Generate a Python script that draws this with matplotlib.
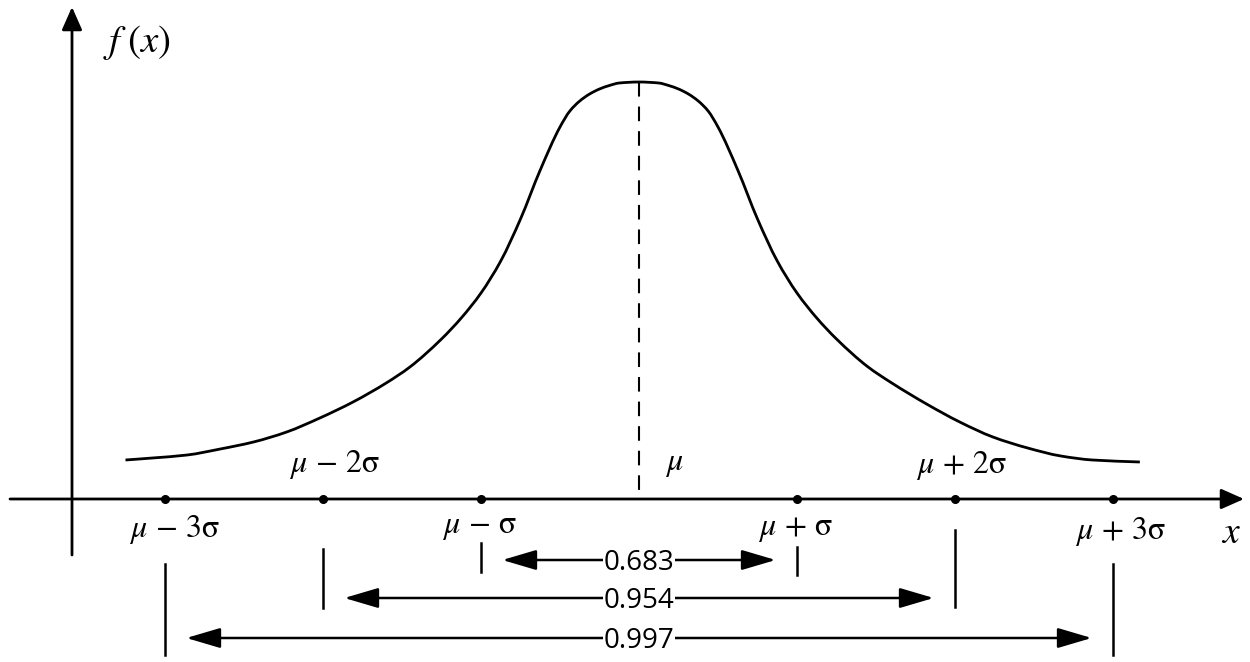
import matplotlib
matplotlib.use("Agg")
import matplotlib.pyplot as plt
import numpy as np
from matplotlib.path import Path
from matplotlib.patches import PathPatch

plt.rcParams['mathtext.fontset'] = 'stix'
plt.rcParams['font.family'] = ['Open Sans', 'DejaVu Sans']

# ---------------- data ----------------
# curve: x in multiples of sigma from mu, height in arbitrary units (axis = 0)
curve_sigma = [-3.25, -3.08, -2.86, -2.65, -2.44, -2.23, -2.02, -1.81, -1.6, -1.45,
               -1.25, -1.125, -1.0, -0.875, -0.75, -0.625, -0.5, -0.4375, -0.375,
               -0.3125, -0.25, -0.1875, -0.125, 0.0,
               0.125, 0.1875, 0.25, 0.3125, 0.375, 0.4375, 0.5, 0.625, 0.75, 0.875,
               1.0, 1.125, 1.25, 1.45, 1.6, 1.82, 2.03, 2.24, 2.46, 2.67, 2.87, 3.17]
curve_height = [39, 41, 44, 50, 57, 67, 81, 97, 116, 132,
                160, 181, 206, 238, 280, 329, 372, 388, 398,
                405, 410, 413.5, 416, 417,
                416, 413.5, 410, 405, 398, 388, 372, 329, 280, 238,
                206, 181, 160, 132, 116, 95, 77, 62, 51, 43, 39, 37]

point_sigma = [-3, -2, -1, 1, 2, 3]
point_labels = [r'$\mu\,-\,3\mathrm{\sigma}$', r'$\mu\,-\,2\mathrm{\sigma}$', r'$\mu\,-\,\mathrm{\sigma}$',
                r'$\mu\,+\,\mathrm{\sigma}$', r'$\mu\,+\,2\mathrm{\sigma}$', r'$\mu\,+\,3\mathrm{\sigma}$']
interval_k = [1, 2, 3]
interval_prob = ['0.683', '0.954', '0.997']

# ---------------- layout ----------------
W, H = 1250, 662
PX_PER_SIGMA = 158.0
MU_PX = 639.0
AXIS_PY = 499.0


def sx(px):
    return (px - MU_PX) / PX_PER_SIGMA


def sy(py):
    return AXIS_PY - py


def smooth_path(xs, ys):
    """Piecewise cubic (shape preserving) Bezier path through the given points."""
    x = np.asarray(xs, float)
    y = np.asarray(ys, float)
    h = np.diff(x)
    d = np.diff(y) / h
    m = np.zeros_like(x)
    m[0], m[-1] = d[0], d[-1]
    for k in range(1, len(x) - 1):
        if d[k - 1] * d[k] <= 0:
            m[k] = 0.0
        else:
            w1 = 2 * h[k] + h[k - 1]
            w2 = h[k] + 2 * h[k - 1]
            m[k] = (w1 + w2) / (w1 / d[k - 1] + w2 / d[k])
    verts = [(x[0], y[0])]
    codes = [Path.MOVETO]
    for k in range(len(x) - 1):
        verts += [(x[k] + h[k] / 3, y[k] + m[k] * h[k] / 3),
                  (x[k + 1] - h[k] / 3, y[k + 1] - m[k + 1] * h[k] / 3),
                  (x[k + 1], y[k + 1])]
        codes += [Path.CURVE4] * 3
    return Path(verts, codes)


fig = plt.figure(figsize=(W / 100, H / 100), dpi=100)
ax = fig.add_axes([0, 0, 1, 1])
ax.set_xlim(sx(0), sx(W))
ax.set_ylim(sy(H), sy(0))
ax.axis('off')

# axes with arrow heads
ax.annotate('', xy=(sx(1244), 0), xytext=(sx(10), 0),
            arrowprops=dict(arrowstyle='-|>,head_length=1.4,head_width=0.62',
                            lw=2, color='k', shrinkA=0, shrinkB=0, mutation_scale=10))
ax.annotate('', xy=(sx(72), sy(7)), xytext=(sx(72), sy(555)),
            arrowprops=dict(arrowstyle='-|>,head_length=1.4,head_width=0.62',
                            lw=2, color='k', shrinkA=0, shrinkB=0, mutation_scale=10))

# density curve
ax.add_patch(PathPatch(smooth_path(curve_sigma, curve_height), fill=False,
                       edgecolor='k', lw=2, capstyle='butt'))

# dashed mean line (from peak down to axis)
peak = max(curve_height)
ax.plot([0, 0], [peak, 0], color='k', lw=1.5, dashes=(7, 4.8))

# points on axis
ax.plot(point_sigma, [0] * len(point_sigma), 'o', color='k', ms=5.5)

# labels for points
label_dx = [0.06, 0.076, -0.006, -0.01, 0.044, 0.05]
label_base = [sy(537), sy(472), sy(533), sy(535), sy(473), sy(539)]
for s, lab, dx, yb in zip(point_sigma, point_labels, label_dx, label_base):
    ax.text(s + dx, yb, lab, ha='center', va='baseline', fontsize=23, color='k')

ax.text(sx(665), sy(470), r'$\mu$', ha='left', va='baseline', fontsize=23, color='k')
ax.text(sx(137), sy(43), r'$f\;(x)$', ha='center', va='center', fontsize=28, color='k')
ax.text(sx(1231), sy(543), r'$x$', ha='center', va='baseline', fontsize=27, color='k')

# interval bars
bar_top = {-3: 564, -2: 549, -1: 543, 1: 547, 2: 530, 3: 564}
bar_bot = {-3: 655, -2: 608, -1: 572, 1: 575, 2: 607, 3: 655}
for s in point_sigma:
    ax.plot([s, s], [sy(bar_top[s]), sy(bar_bot[s])], color='k', lw=1.8)

# probability arrows
arrow_py = [560, 598, 638]
gap = 0.135
for k, p, py in zip(interval_k, interval_prob, arrow_py):
    ax.annotate('', xy=(k - gap, sy(py)), xytext=(-k + gap, sy(py)),
                arrowprops=dict(arrowstyle='<|-|>,head_length=2.1,head_width=0.62',
                                lw=1.8, color='k', shrinkA=0, shrinkB=0, mutation_scale=10))
    ax.text(0, sy(py + 9.5), p, ha='center', va='baseline', fontsize=20, color='k',
            bbox=dict(boxstyle='square,pad=0.02', fc='white', ec='none'))

fig.savefig('out.png', dpi=100, facecolor='white')
